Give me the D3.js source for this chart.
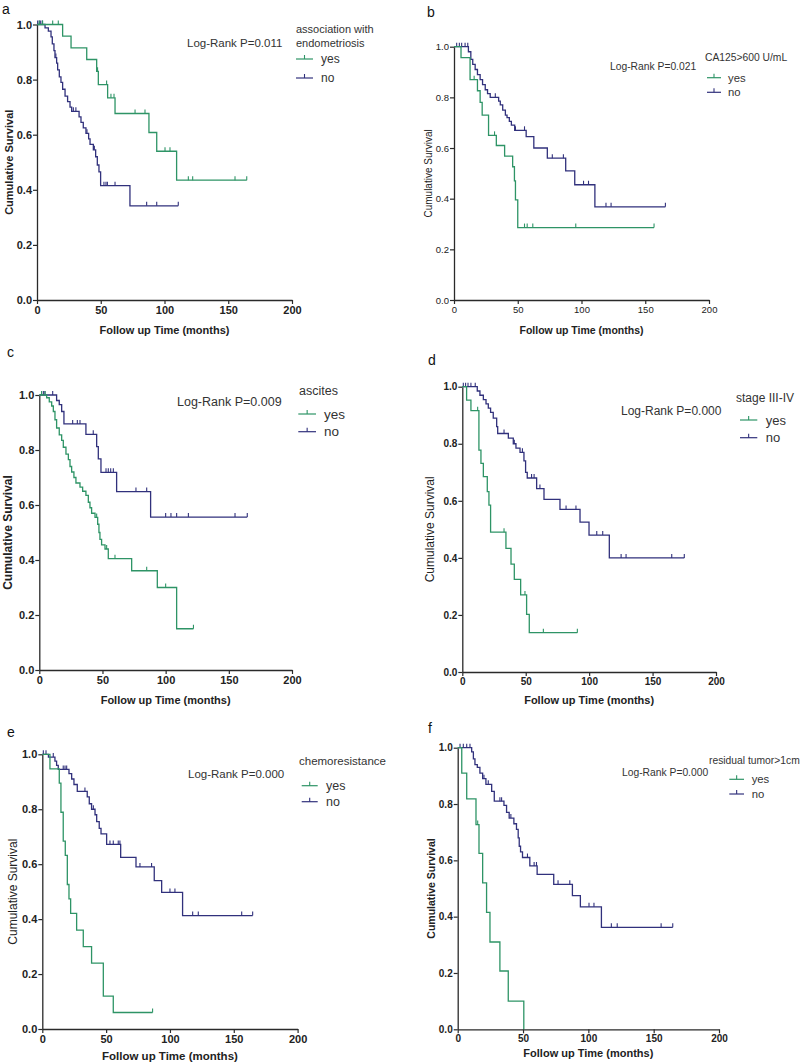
<!DOCTYPE html>
<html>
<head>
<meta charset="utf-8">
<script src="https://cdn.jsdelivr.net/npm/d3@7"></script>
<style>
  body { margin: 0; background: #fff; }
  svg { display: block; font-family: "Liberation Sans", Arial, sans-serif; }
</style>
</head>
<body>
<svg id="chart" width="800" height="1062"></svg>
<script>
// steps are [time in months, survival after the event]; censored times as lists
const xTicks = [0, 50, 100, 150, 200];
const yTicks = [0, 0.2, 0.4, 0.6, 0.8, 1.0];
const groups = ["yes", "no"];

// a: association with endometriosis
const aYes = [[20.1,0.958],[26.7,0.915],[39.0,0.873],[46.8,0.83],[48.1,0.782],[55.4,0.734],[61.2,0.677],[87.8,0.608],[93.9,0.54],[109.5,0.435]];
const aYesCens = [1.8,4.4,12.3,16.7,47.5,54.6,58.0,60.4,76.9,84.7,100.4,104.3,118.7,122.1,155.3];
const aYesEnd = 164.5;
const aNo = [[6.3,0.988],[8.9,0.976],[11,0.955],[12,0.93],[13.3,0.905],[14.1,0.88],[15.4,0.86],[16.2,0.835],[17.5,0.81],[18.8,0.79],[20.1,0.765],[22,0.74],[24,0.72],[25.9,0.70],[27.2,0.685],[33,0.665],[34.5,0.645],[36.3,0.625],[38.4,0.605],[40.5,0.585],[41.6,0.565],[44.2,0.545],[46,0.52],[47.3,0.49],[48.6,0.465],[49.9,0.415],[72.9,0.342]];
const aNoCens = [0.5,1.8,2.9,4.2,14.8,28.5,30.5,39.2,45,52.5,54.1,55.2,61.2,86,93.9];
const aNoEnd = 110.8;

// b: CA125>600 U/mL
const bYes = [[5.5,0.957],[12.6,0.87],[18.4,0.826],[20.5,0.78],[22.1,0.73],[27.1,0.65],[33.2,0.61],[39.7,0.568],[46,0.526],[47.4,0.47],[48.2,0.395],[50,0.286]];
const bYesCens = [15.8,31.8,55.3,57.4,61.8,95.5];
const bYesEnd = 156.9;
const bNo = [[11.3,0.98],[13.2,0.95],[14.7,0.93],[16.6,0.91],[18.4,0.89],[20.5,0.87],[22.4,0.85],[24.5,0.83],[26.3,0.815],[28.4,0.80],[35,0.785],[36.3,0.77],[38.2,0.75],[40.3,0.73],[41.6,0.72],[43.4,0.705],[45,0.69],[47.6,0.67],[56.6,0.645],[62.6,0.60],[73.2,0.56],[87.6,0.51],[94.7,0.455],[110.5,0.368]];
const bNoCens = [2.1,4.2,6,8.7,10.8,32.4,48.2,55.3,77.1,85.8,101.6,105.5,119.2,123.2];
const bNoEnd = 165.8;

// c: ascites
const cYes = [[5.8,0.99],[7.9,0.975],[9.8,0.96],[11.1,0.94],[12.4,0.91],[13.7,0.88],[15.8,0.855],[17.7,0.835],[19,0.81],[21.1,0.785],[23,0.765],[24.3,0.74],[25.6,0.72],[27.4,0.70],[29,0.68],[32.2,0.665],[34.3,0.65],[36.9,0.635],[38.8,0.61],[40.1,0.59],[41.4,0.57],[44.1,0.555],[46.2,0.53],[47.2,0.50],[48,0.475],[49.3,0.455],[52,0.44],[54.6,0.405],[73.1,0.361],[93.4,0.30],[108.7,0.15]];
const cYesCens = [1.8,4.5,45.4,53.3,59.9,85,100];
const cYesEnd = 122;
const cNo = [[13.7,0.98],[15.8,0.965],[17.7,0.94],[19.5,0.895],[36.9,0.857],[45.4,0.812],[46.7,0.768],[48.8,0.719],[61.2,0.649],[88.1,0.556]];
const cNoCens = [3.2,4.5,10.6,26.4,30.1,32.2,42.7,52.8,54.6,56.5,58.6,76.5,85,100,104.2,108.7,118,154.9];
const cNoEnd = 164.6;

// d: stage III-IV
const dYes = [[3.4,0.953],[6.8,0.916],[13.1,0.778],[14.7,0.731],[16.6,0.685],[19.7,0.632],[21,0.585],[22.3,0.49],[34.4,0.433],[38.4,0.378],[41,0.325],[46,0.27],[50.7,0.202],[52.8,0.138]];
const dYesCens = [12.1,32.9,49.4,63.9];
const dYesEnd = 90.7;
const dNo = [[11.8,0.985],[13.9,0.97],[16.6,0.955],[18.7,0.94],[20.5,0.925],[22.3,0.91],[24.4,0.89],[27.1,0.86],[27.9,0.836],[36.3,0.82],[40.2,0.80],[42.3,0.785],[45.5,0.77],[48.6,0.74],[49.9,0.70],[51.2,0.68],[58.6,0.643],[64.4,0.605],[77,0.57],[92.8,0.525],[99.9,0.48],[115.9,0.40]];
const dNoCens = [0.8,2.6,4.5,6.8,10.2,32.9,41,47.4,54.6,56.6,61.2,81.8,89.6,106,110.7,125.2,129.1,165.1];
const dNoEnd = 175;

// e: chemoresistance
const eYes = [[6,0.947],[13.3,0.895],[14.6,0.789],[16.4,0.684],[18,0.632],[19.6,0.526],[20.9,0.474],[22.2,0.421],[26.9,0.36],[32.1,0.30],[38.6,0.24],[47.8,0.12],[55.6,0.06]];
const eYesCens = [];
const eYesEnd = 86.4;
const eNo = [[4.8,0.99],[9.9,0.975],[11.2,0.96],[12.5,0.945],[20.9,0.93],[23,0.91],[24.8,0.89],[27.4,0.865],[35.2,0.845],[36.8,0.82],[38.6,0.80],[41.3,0.78],[42.6,0.755],[44.6,0.73],[46,0.71],[50.4,0.672],[61.4,0.625],[73.4,0.59],[87.7,0.54],[93.5,0.497],[109.9,0.413]];
const eNoCens = [0.8,2.9,8.6,16.4,17.8,19.1,33.4,40,53,55.6,59.5,60.8,76.5,85.6,100,103.9,117.8,122.2,156.2];
const eNoEnd = 164.8;

// f: residual tumor>1cm
const fYes = [[3.1,0.91],[6.9,0.818],[14,0.727],[16.3,0.625],[19.1,0.52],[22.1,0.415],[24.7,0.31],[32.3,0.207],[38.7,0.10],[50.6,0]];
const fYesCens = [15.3];
const fYesEnd = 50.6;
const fNo = [[10.7,0.985],[12,0.96],[13.2,0.94],[15,0.93],[17,0.91],[19.1,0.89],[21.6,0.87],[26,0.845],[28,0.81],[35.4,0.795],[37.4,0.77],[39.4,0.75],[43,0.73],[45,0.71],[46.3,0.68],[47.1,0.65],[48.1,0.63],[49.6,0.61],[55.2,0.58],[60.8,0.55],[73.5,0.515],[87.8,0.475],[93.9,0.435],[110,0.362]];
const fNoCens = [1.8,4.3,6.9,9.4,20.1,23.4,32.3,33.6,40.7,53.4,58.5,60.3,76.8,85.8,100.5,104.3,117.6,122.1,155.7];
const fNoEnd = 164.6;

const colors = { yes: "#2e9466", no: "#31317c" };

const panels = [
  { label: "a", p: "0.011", legend: ["association with", "endometriosis"],
    curves: { yes: [aYes, aYesCens, aYesEnd], no: [aNo, aNoCens, aNoEnd] },
    x0: 37, x1: 292, y0: 300, y1: 24.5, tickFs: 11, tickBold: true, yTitleBold: true, yTitleFs: 11,
    xTitleFs: 11, xTitleY: 334, yTitleX: 9,
    lab: [2, 14], pos: [187, 47], pFs: 11.5,
    leg: { x: 296, ty: 33, lh: 14, yes: 59, no: 78, lx: 296, lw: 17, tx: 321, fs: 11 } },
  { label: "b", p: "0.021", legend: ["CA125>600 U/mL"],
    curves: { yes: [bYes, bYesCens, bYesEnd], no: [bNo, bNoCens, bNoEnd] },
    x0: 454, x1: 709, y0: 300, y1: 46.7, tickFs: 9.5, tickBold: false, yTitleBold: false, yTitleFs: 10,
    xTitleFs: 10.5, xTitleY: 334, yTitleX: 428,
    lab: [427, 17], pos: [610, 70], pFs: 10.3,
    leg: { x: 705, ty: 61, lh: 14, yes: 77.7, no: 92.3, lx: 707, lw: 14, tx: 728, fs: 10.3 } },
  { label: "c", p: "0.009", legend: ["ascites"],
    curves: { yes: [cYes, cYesCens, cYesEnd], no: [cNo, cNoCens, cNoEnd] },
    x0: 39.3, x1: 292, y0: 670, y1: 395, tickFs: 11, tickBold: true, yTitleBold: true, yTitleFs: 12,
    xTitleFs: 11, xTitleY: 704, yTitleX: 8,
    lab: [7, 357], pos: [177, 406], pFs: 12.5,
    leg: { x: 299, ty: 395, lh: 14, yes: 414, no: 431.7, lx: 298.3, lw: 17.7, tx: 324, fs: 12.5 } },
  { label: "d", p: "0.000", legend: ["stage III-IV"],
    curves: { yes: [dYes, dYesCens, dYesEnd], no: [dNo, dNoCens, dNoEnd] },
    x0: 462.3, x1: 716, y0: 672, y1: 386.7, tickFs: 10, tickBold: true, yTitleBold: false, yTitleFs: 12,
    xTitleFs: 11, xTitleY: 704, yTitleX: 430,
    lab: [428, 365], pos: [621, 415], pFs: 12,
    leg: { x: 736, ty: 401.5, lh: 14, yes: 420, no: 437.7, lx: 740, lw: 17.3, tx: 765.7, fs: 12 } },
  { label: "e", p: "0.000", legend: ["chemoresistance"],
    curves: { yes: [eYes, eYesCens, eYesEnd], no: [eNo, eNoCens, eNoEnd] },
    x0: 42.3, x1: 297.6, y0: 1029, y1: 754.3, tickFs: 11, tickBold: true, yTitleBold: false, yTitleFs: 12,
    xTitleFs: 11.5, xTitleY: 1060, yTitleX: 12.5,
    lab: [7, 737], pos: [188, 778], pFs: 11.5,
    leg: { x: 299, ty: 765, lh: 14, yes: 785.7, no: 801.7, lx: 301.7, lw: 16, tx: 326, fs: 11.5 } },
  { label: "f", p: "0.000", legend: ["residual tumor>1cm"],
    curves: { yes: [fYes, fYesCens, fYesEnd], no: [fNo, fNoCens, fNoEnd] },
    x0: 457.7, x1: 719, y0: 1029.3, y1: 747.7, tickFs: 10, tickBold: true, yTitleBold: true, yTitleFs: 10.5,
    xTitleFs: 11, xTitleY: 1057, yTitleX: 431,
    lab: [428, 733], pos: [622, 776], pFs: 10.3,
    leg: { x: 709, ty: 763.5, lh: 14, yes: 779.3, no: 794, lx: 729.3, lw: 14.7, tx: 751.7, fs: 10.3 } }
];

const svg = d3.select("#chart");

function survAt(steps, t) {
  let s = 1;
  steps.forEach(function(d) { if (d[0] <= t) s = d[1]; });
  return s;
}

function drawPanel(p) {
  const g = svg.append("g");
  const x = d3.scaleLinear().domain([0, 200]).range([p.x0, p.x1]);
  const y = d3.scaleLinear().domain([0, 1]).range([p.y0, p.y1]);

  const xa = g.append("g")
    .attr("transform", "translate(0," + p.y0 + ")")
    .call(d3.axisBottom(x).tickValues(xTicks).tickSize(4).tickSizeOuter(0).tickPadding(2).tickFormat(d3.format("d")));
  const ya = g.append("g")
    .attr("transform", "translate(" + p.x0 + ",0)")
    .call(d3.axisLeft(y).tickValues(yTicks).tickSize(4).tickSizeOuter(0).tickPadding(1).tickFormat(d3.format(".1f")));
  [xa, ya].forEach(function(a) {
    a.select(".domain").attr("stroke", "#2a2a2a").attr("stroke-width", 1.3);
    a.selectAll(".tick line").attr("stroke", "#2a2a2a").attr("stroke-width", 1.2);
    a.selectAll(".tick text")
      .attr("fill", "#222")
      .style("font-family", "'Liberation Sans', Arial, sans-serif")
      .style("font-size", p.tickFs + "px")
      .style("font-weight", p.tickBold ? "bold" : "normal");
  });

  // axis titles
  g.append("text")
    .attr("x", (p.x0 + p.x1) / 2).attr("y", p.xTitleY)
    .attr("text-anchor", "middle")
    .style("font-size", p.xTitleFs + "px").style("font-weight", "bold").attr("fill", "#222")
    .text("Follow up Time (months)");
  g.append("text")
    .attr("transform", "translate(" + p.yTitleX + "," + (p.y0 + p.y1) / 2 + ") rotate(-90)")
    .attr("text-anchor", "middle").attr("dy", "0.35em")
    .style("font-size", p.yTitleFs + "px").style("font-weight", p.yTitleBold ? "bold" : "normal").attr("fill", "#222")
    .text("Cumulative Survival");

  // panel letter
  g.append("text").attr("x", p.lab[0]).attr("y", p.lab[1])
    .style("font-size", "14px").attr("fill", "#111").text(p.label);

  // log-rank
  g.append("text").attr("x", p.pos[0]).attr("y", p.pos[1])
    .style("font-size", p.pFs + "px").attr("fill", "#333")
    .text("Log-Rank P=" + p.p);

  // curves
  const line = d3.line().x(function(d) { return x(d[0]); }).y(function(d) { return y(d[1]); }).curve(d3.curveStepAfter);
  ["no", "yes"].forEach(function(k) {
    const steps = p.curves[k][0], cens = p.curves[k][1], end = p.curves[k][2];
    const last = steps[steps.length - 1][1];
    const pts = [[0, 1]].concat(steps).concat([[end, last]]);
    g.append("path").datum(pts)
      .attr("d", line)
      .attr("fill", "none")
      .attr("stroke", colors[k])
      .attr("stroke-width", 1.3);
    const marks = last > 0 ? cens.concat([end]) : cens;
    g.selectAll(null).data(marks).enter().append("line")
      .attr("x1", function(t) { return x(t); }).attr("x2", function(t) { return x(t); })
      .attr("y1", function(t) { return y(survAt(steps, t)); })
      .attr("y2", function(t) { return y(survAt(steps, t)) - 4; })
      .attr("stroke", colors[k]).attr("stroke-width", 1.1);
  });

  // legend
  const L = p.leg;
  p.legend.forEach(function(t, i) {
    g.append("text").attr("x", L.x).attr("y", L.ty + i * L.lh)
      .style("font-size", L.fs + "px").attr("fill", "#333").text(t);
  });
  groups.forEach(function(k) {
    const cy = L[k];
    g.append("line").attr("x1", L.lx).attr("x2", L.lx + L.lw).attr("y1", cy).attr("y2", cy)
      .attr("stroke", colors[k]).attr("stroke-width", 1.2);
    g.append("line").attr("x1", L.lx + L.lw / 2).attr("x2", L.lx + L.lw / 2).attr("y1", cy).attr("y2", cy - 4)
      .attr("stroke", colors[k]).attr("stroke-width", 1.1);
    g.append("text").attr("x", L.tx).attr("y", cy).attr("dy", "0.35em")
      .style("font-size", (L.fs + 1) + "px").attr("fill", "#333").text(k);
  });
}

panels.forEach(drawPanel);
</script>
</body>
</html>
